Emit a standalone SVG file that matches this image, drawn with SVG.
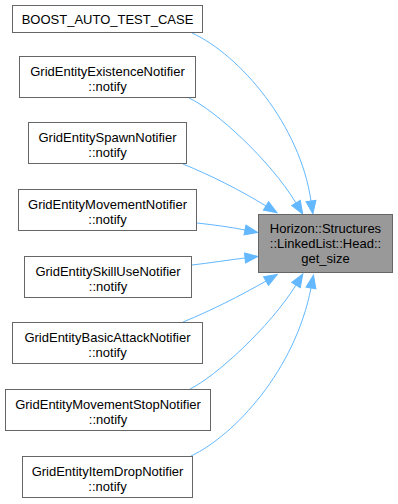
<svg xmlns="http://www.w3.org/2000/svg" width="398" height="504" viewBox="0 0 398 504">
  <style>
    .node rect { fill: #ffffff; stroke: #666666; stroke-width: 1; }
    .node.target rect { fill: #999999; }
    .node text { font-family: "Liberation Sans", Arial, sans-serif; font-size: 13px; fill: #000000; text-anchor: middle; }
    .edge { fill: none; stroke: #63b8ff; stroke-width: 1; marker-end: url(#arrow); }
  </style>
  <defs>
    <marker id="arrow" markerUnits="userSpaceOnUse" markerWidth="14" markerHeight="12" viewBox="0 -6 14 12" refX="0" refY="0" orient="auto" overflow="visible">
      <path d="M0,-5 L13,0 L0,5 Z" fill="#63b8ff" stroke="#63b8ff" stroke-width="1"/>
    </marker>
  </defs>

  <rect width="398" height="504" fill="#ffffff"/>

  <!-- connectors: every caller points at get_size -->
  <g id="edges">
    <path class="edge" d="M192,33 C240,55 300,125 311,201"/>
    <path class="edge" d="M189,98 C215,110 270,160 296,203"/>
    <path class="edge" d="M183,164 C210,175 240,190 266,206"/>
    <path class="edge" d="M197,223 C215,225 230,227 245,230"/>
    <path class="edge" d="M192,265 C210,263 228,260 245,258"/>
    <path class="edge" d="M183,322 C210,311 240,296 266,281"/>
    <path class="edge" d="M190,389 C215,377 270,327 296,285"/>
    <path class="edge" d="M191,456 C235,435 295,370 311,288"/>
  </g>

  <g id="node-target" class="node target">
    <rect x="258.5" y="214.5" width="134" height="58"/>
    <text x="325.5" y="233">Horizon::Structures</text>
    <text x="325.5" y="248">::LinkedList::Head::</text>
    <text x="325.5" y="263">get_size</text>
  </g>

  <g id="node-boost" class="node">
    <rect x="12.5" y="5.5" width="190" height="27"/>
    <text x="107.5" y="23.5">BOOST_AUTO_TEST_CASE</text>
  </g>

  <g id="node-existence" class="node">
    <rect x="19.5" y="56.5" width="176" height="41"/>
    <text x="107.5" y="76">GridEntityExistenceNotifier</text>
    <text x="107.5" y="91">::notify</text>
  </g>

  <g id="node-spawn" class="node">
    <rect x="28.5" y="122.5" width="158" height="41"/>
    <text x="107.5" y="142">GridEntitySpawnNotifier</text>
    <text x="107.5" y="157">::notify</text>
  </g>

  <g id="node-movement" class="node">
    <rect x="18.5" y="189.5" width="178" height="41"/>
    <text x="107.5" y="209">GridEntityMovementNotifier</text>
    <text x="107.5" y="224">::notify</text>
  </g>

  <g id="node-skilluse" class="node">
    <rect x="24.5" y="256.5" width="167" height="41"/>
    <text x="108" y="276">GridEntitySkillUseNotifier</text>
    <text x="108" y="291">::notify</text>
  </g>

  <g id="node-basicattack" class="node">
    <rect x="12.5" y="322.5" width="190" height="41"/>
    <text x="107.5" y="342">GridEntityBasicAttackNotifier</text>
    <text x="107.5" y="357">::notify</text>
  </g>

  <g id="node-movementstop" class="node">
    <rect x="5.5" y="389.5" width="205" height="41"/>
    <text x="108" y="409">GridEntityMovementStopNotifier</text>
    <text x="108" y="424">::notify</text>
  </g>

  <g id="node-itemdrop" class="node">
    <rect x="22.5" y="456.5" width="170" height="41"/>
    <text x="107.5" y="476">GridEntityItemDropNotifier</text>
    <text x="107.5" y="491">::notify</text>
  </g>
</svg>
